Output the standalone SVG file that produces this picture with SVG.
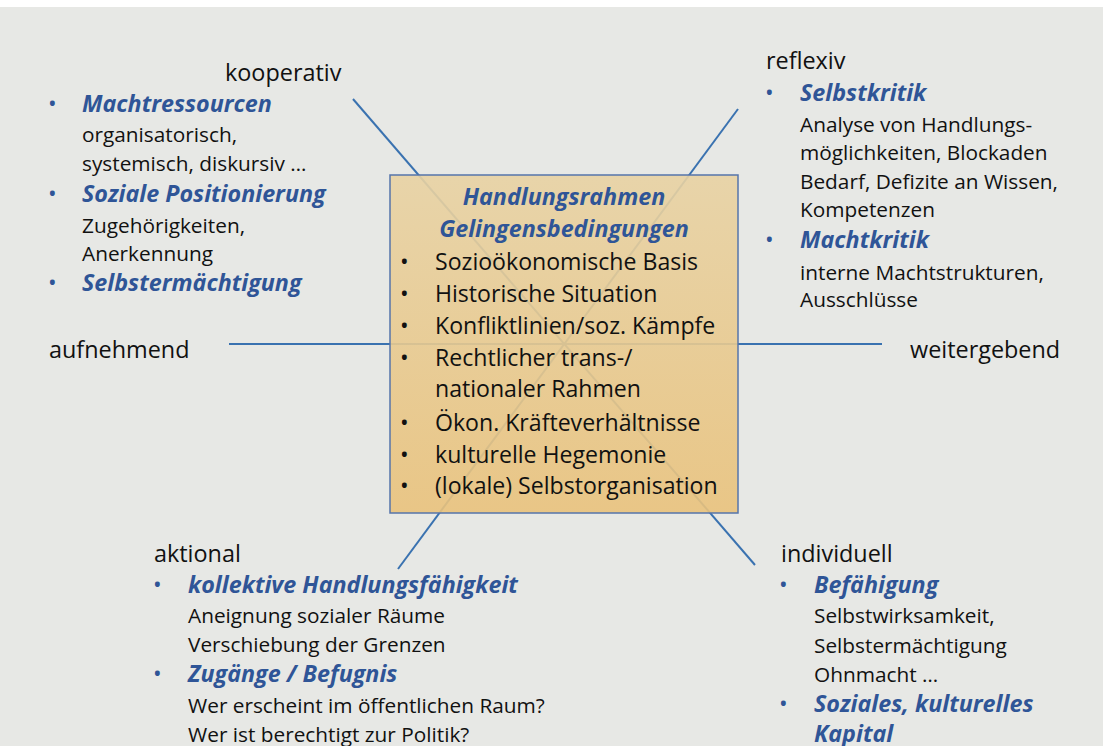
<svg xmlns="http://www.w3.org/2000/svg" width="1103" height="746" viewBox="0 0 1103 746">
<defs>
<linearGradient id="boxfill" x1="0" y1="0" x2="0" y2="1">
<stop offset="0" stop-color="#e8d2a3"/>
<stop offset="1" stop-color="#e9c27c"/>
</linearGradient>
<style>
text{font-family:"Open Sans",Lato,"Liberation Sans",sans-serif;fill:#111;}
.lbl{font-size:23.4px;}
.hd{font-size:23.3px;font-weight:bold;font-style:italic;fill:#2f5597;}
.tx{font-size:20.8px;}
.bl{font-size:23px;fill:#2f5597;}
.bt{font-size:23.1px;}
.bb{font-size:23px;fill:#111;}
.con{stroke:#3a72b0;stroke-width:2;fill:none;}
</style>
</defs>
<rect x="0" y="0" width="1103" height="746" fill="#ffffff"/>
<rect x="0" y="7" width="1103" height="739" fill="#e7e8e5"/>
<g id="connectors">
<line class="con" x1="353" y1="99" x2="755" y2="565"/>
<line class="con" x1="738" y1="109" x2="398" y2="569"/>
<line class="con" x1="229" y1="344" x2="882" y2="344"/>
</g>
<g id="center">
<rect x="390" y="175" width="348" height="338" fill="url(#boxfill)" fill-opacity="0.9" stroke="#5674aa" stroke-width="1.5"/>
<text class="hd" x="564" y="205" text-anchor="middle" font-size="23.6">Handlungsrahmen</text>
<text class="hd" x="564" y="237" text-anchor="middle" font-size="23.6">Gelingensbedingungen</text>
<text class="bb" x="400" y="270">•</text><text class="bt" x="435" y="270">Sozioökonomische Basis</text>
<text class="bb" x="400" y="302">•</text><text class="bt" x="435" y="302">Historische Situation</text>
<text class="bb" x="400" y="334">•</text><text class="bt" x="435" y="334">Konfliktlinien/soz. Kämpfe</text>
<text class="bb" x="400" y="366">•</text><text class="bt" x="435" y="366">Rechtlicher trans-/</text>
<text class="bt" x="435" y="397">nationaler Rahmen</text>
<text class="bb" x="400" y="431">•</text><text class="bt" x="435" y="431">Ökon. Kräfteverhältnisse</text>
<text class="bb" x="400" y="463">•</text><text class="bt" x="435" y="463">kulturelle Hegemonie</text>
<text class="bb" x="400" y="494">•</text><text class="bt" x="435" y="494">(lokale) Selbstorganisation</text>
</g>
<g id="kooperativ">
<text class="lbl" x="225" y="81">kooperativ</text>
<text class="bl" x="48" y="112">•</text><text class="hd" x="82" y="112">Machtressourcen</text>
<text class="tx" x="82" y="142">organisatorisch,</text>
<text class="tx" x="82" y="171">systemisch, diskursiv …</text>
<text class="bl" x="48" y="202">•</text><text class="hd" x="82" y="202">Soziale Positionierung</text>
<text class="tx" x="82" y="233">Zugehörigkeiten,</text>
<text class="tx" x="82" y="261">Anerkennung</text>
<text class="bl" x="48" y="291">•</text><text class="hd" x="82" y="291">Selbstermächtigung</text>
</g>
<g id="reflexiv">
<text class="lbl" x="766" y="69">reflexiv</text>
<text class="bl" x="765" y="101">•</text><text class="hd" x="800" y="101">Selbstkritik</text>
<text class="tx" x="800" y="132">Analyse von Handlungs-</text>
<text class="tx" x="800" y="160">möglichkeiten, Blockaden</text>
<text class="tx" x="800" y="189">Bedarf, Defizite an Wissen,</text>
<text class="tx" x="800" y="217">Kompetenzen</text>
<text class="bl" x="765" y="248">•</text><text class="hd" x="800" y="248">Machtkritik</text>
<text class="tx" x="800" y="280">interne Machtstrukturen,</text>
<text class="tx" x="800" y="307">Ausschlüsse</text>
</g>
<g id="aufnehmend">
<text class="lbl" x="49" y="358">aufnehmend</text>
</g>
<g id="weitergebend">
<text class="lbl" x="910" y="358">weitergebend</text>
</g>
<g id="aktional">
<text class="lbl" x="154" y="562">aktional</text>
<text class="bl" x="153" y="593">•</text><text class="hd" x="188" y="593">kollektive Handlungsfähigkeit</text>
<text class="tx" x="188" y="623">Aneignung sozialer Räume</text>
<text class="tx" x="188" y="652">Verschiebung der Grenzen</text>
<text class="bl" x="153" y="682">•</text><text class="hd" x="188" y="682">Zugänge / Befugnis</text>
<text class="tx" x="188" y="713">Wer erscheint im öffentlichen Raum?</text>
<text class="tx" x="188" y="742">Wer ist berechtigt zur Politik?</text>
</g>
<g id="individuell">
<text class="lbl" x="781" y="562">individuell</text>
<text class="bl" x="779" y="593">•</text><text class="hd" x="814" y="593">Befähigung</text>
<text class="tx" x="814" y="623">Selbstwirksamkeit,</text>
<text class="tx" x="814" y="653">Selbstermächtigung</text>
<text class="tx" x="814" y="682">Ohnmacht …</text>
<text class="bl" x="779" y="712">•</text><text class="hd" x="814" y="712">Soziales, kulturelles</text>
<text class="hd" x="814" y="742">Kapital</text>
</g>
</svg>
